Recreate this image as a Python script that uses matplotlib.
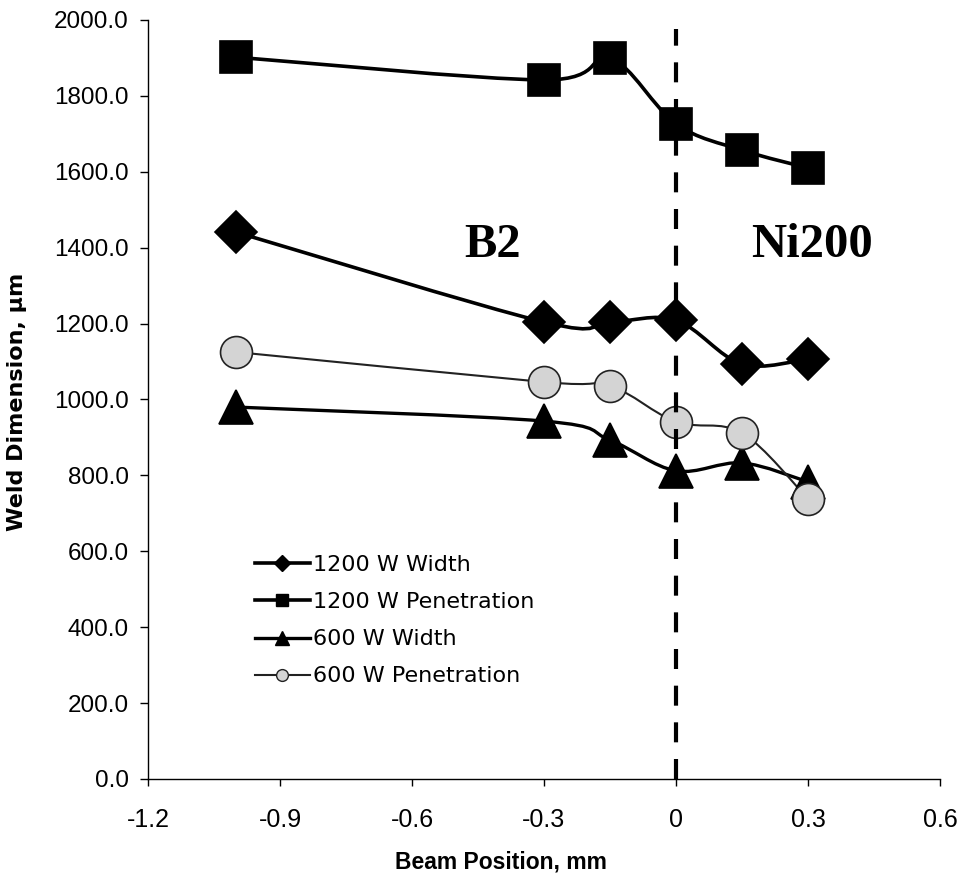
import numpy as np
import matplotlib
matplotlib.use("Agg")
import matplotlib.pyplot as plt
from matplotlib.path import Path
from matplotlib.patches import PathPatch
from matplotlib.lines import Line2D

# Beam position (mm) and weld dimensions (micrometres)
beam_pos = [-1.0, -0.3, -0.15, 0.0, 0.15, 0.3]
width_1200 = [1441, 1204, 1204, 1209, 1093, 1107]
pen_1200 = [1902, 1842, 1900, 1726, 1657, 1610]
width_600 = [980, 943, 893, 812, 833, 783]
pen_600 = [1125, 1046, 1036, 941, 912, 738]

series_labels = ["1200 W Width", "1200 W Penetration", "600 W Width", "600 W Penetration"]
x_ticks = [-1.2, -0.9, -0.6, -0.3, 0.0, 0.3, 0.6]
x_tick_labels = ["-1.2", "-0.9", "-0.6", "-0.3", "0", "0.3", "0.6"]
y_ticks = list(range(0, 2001, 200))

SANS = "Liberation Sans"
WIDE = "DejaVu Sans"


def smooth_path(xs, ys):
    """Bezier path through the points (Catmull-Rom style smoothing)."""
    pts = np.column_stack([xs, ys]).astype(float)
    n = len(pts)
    verts = [pts[0]]
    codes = [Path.MOVETO]
    for i in range(n - 1):
        p0 = pts[i - 1] if i > 0 else pts[i]
        p1 = pts[i]
        p2 = pts[i + 1]
        p3 = pts[i + 2] if i + 2 < n else pts[i + 1]
        c1 = p1 + (p2 - p0) / 6.0
        c2 = p2 - (p3 - p1) / 6.0
        verts += [c1, c2, p2]
        codes += [Path.CURVE4] * 3
    return Path(verts, codes)


fig = plt.figure(figsize=(9.59, 8.84), dpi=100)
ax = fig.add_axes([0.1543, 0.1188, 0.8259, 0.8586])

styles = [
    dict(y=width_1200, marker="D", ms=21, mfc="black", mec="black", lc="black", lw=2.6, lms=8),
    dict(y=pen_1200, marker="s", ms=23, mfc="black", mec="black", lc="black", lw=2.6, lms=8.5),
    dict(y=width_600, marker="^", ms=25, mfc="black", mec="black", lc="black", lw=2.4, lms=10.5),
    dict(y=pen_600, marker="o", ms=23, mfc="#d4d4d4", mec="#222222", lc="#222222", lw=1.5, lms=8.5),
]

handles = []
for st, lab in zip(styles, series_labels):
    patch = PathPatch(smooth_path(beam_pos, st["y"]), fill=False,
                      edgecolor=st["lc"], lw=st["lw"], zorder=2)
    ax.add_patch(patch)
    ax.plot(beam_pos, st["y"], linestyle="none", marker=st["marker"],
            ms=st["ms"], mfc=st["mfc"], mec=st["mec"], mew=1.2, zorder=3)
    handles.append(Line2D([], [], color=st["lc"], lw=st["lw"], marker=st["marker"],
                          ms=st["lms"], mfc=st["mfc"], mec=st["mec"], mew=1.0))

# Interface between the two materials
ax.plot([0, 0], [0, 1975], color="black", lw=3.0, dashes=(4.8, 4.0), zorder=4)

ax.text(-0.416, 1407, "B2", fontsize=35, fontweight="bold",
        family="Liberation Serif", ha="center", va="center")
ax.text(0.309, 1407, "Ni200", fontsize=35, fontweight="bold",
        family="Liberation Serif", ha="center", va="center")

ax.set_xlim(-1.2, 0.6)
ax.set_ylim(0, 2000)
ax.set_xticks(x_ticks)
ax.set_xticklabels(x_tick_labels, family=SANS, fontsize=18)
ax.set_yticks(y_ticks)
ax.set_yticklabels([f"{v:.1f}" for v in y_ticks], family=SANS, fontsize=17.5)
ax.tick_params(axis="x", direction="out", length=5, width=1, pad=16)
ax.tick_params(axis="y", direction="out", length=6, width=1, pad=8)

for side in ("top", "right"):
    ax.spines[side].set_visible(False)
for side in ("left", "bottom"):
    ax.spines[side].set_linewidth(1.0)

ax.set_xlabel("Beam Position, mm", family=SANS, fontweight="bold", fontsize=16.5)
ax.xaxis.set_label_coords(0.446, -0.094)
ax.set_ylabel("Weld Dimension, µm", family=WIDE, fontweight="bold", fontsize=16)
ax.yaxis.set_label_coords(-0.153, 0.497)

ax.legend(handles, series_labels, loc="upper left", bbox_to_anchor=(0.135, 0.295),
          frameon=False, prop={"family": WIDE, "size": 16}, handlelength=2.48,
          handletextpad=0.14, labelspacing=0.77, borderaxespad=0, borderpad=0)

fig.savefig("out.png", dpi=100, facecolor="white")
